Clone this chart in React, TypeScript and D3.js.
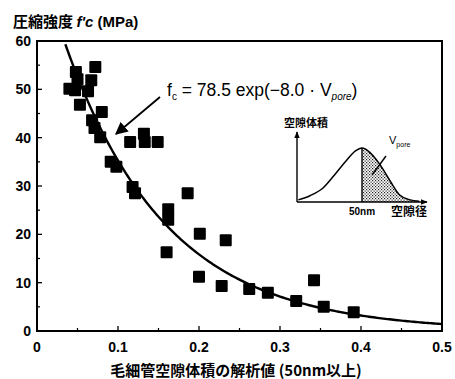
import React from "react";
import * as d3 from "d3";

// Measured points: capillary pore volume (>=50nm) vs compressive strength f'c (MPa)
const poreVolume = [
  0.040, 0.048, 0.050, 0.047, 0.053, 0.067, 0.072, 0.063, 0.068, 0.071, 0.080, 0.078,
  0.091, 0.098, 0.115, 0.132, 0.133, 0.149, 0.118, 0.121, 0.162, 0.162, 0.160, 0.186,
  0.201, 0.200, 0.233, 0.228, 0.262, 0.285, 0.320, 0.342, 0.354, 0.391,
];
const strength = [
  50.1, 53.6, 52.1, 49.8, 46.8, 51.9, 54.6, 49.6, 43.6, 42.0, 45.3, 40.1,
  35.0, 34.0, 39.1, 40.8, 39.1, 39.1, 29.8, 28.5, 25.2, 23.0, 16.3, 28.5,
  20.1, 11.2, 18.8, 9.3, 8.7, 7.9, 6.2, 10.5, 5.0, 3.9,
];

// Fitted curve  fc = 78.5 exp(-8.0 Vpore)
const fitA = 78.5;
const fitB = -8.0;
const fitX = d3.range(0, 0.5001, 0.0025);

const xTicks = [0, 0.1, 0.2, 0.3, 0.4, 0.5];
const xTickLabels = ["0", "0.1", "0.2", "0.3", "0.4", "0.5"];
const xMinorTicks = [0.05, 0.15, 0.25, 0.35, 0.45];
const yTicks = [0, 10, 20, 30, 40, 50, 60];
const yMinorTicks = [5, 15, 25, 35, 45, 55];

// Inset schematic: pore size distribution (arbitrary units)
const insetSize = [0.1, 1, 2, 2.9, 3.7, 4.5, 5, 5.6, 6.4, 7.2, 7.9, 8.7, 9.4];
const insetVolume = [0.3, 0.9, 2.0, 3.9, 5.7, 7.3, 7.7, 7.1, 5.3, 2.9, 1.0, 0.3, 0.1];
const insetCut = 5;

const yTitleJa = "圧縮強度 ";
const yTitleSym = "f'c";
const yTitleUnit = " (MPa)";
const xTitle = "毛細管空隙体積の解析値 (50nm以上)";

const FONT = "'Liberation Sans', Arial, Helvetica, sans-serif";
const JFONT = "'Noto Sans CJK JP', 'Liberation Sans', sans-serif";

export default function App() {
  const W = 455, H = 379;
  const x = d3.scaleLinear().domain([0, 0.5]).range([37, 442]);
  const y = d3.scaleLinear().domain([0, 60]).range([331, 41]);

  const fitLine = d3
    .line<number>()
    .x((v) => x(v))
    .y((v) => y(Math.min(60, fitA * Math.exp(fitB * v))))(
    fitX.filter((v) => fitA * Math.exp(fitB * v) <= 60.5)
  );

  const ix = d3.scaleLinear().domain([0, 10]).range([297, 427]);
  const iy = d3.scaleLinear().domain([0, 10]).range([202, 132]);
  const insetPts = insetSize.map((s, i) => [s, insetVolume[i]] as [number, number]);
  const insetLine = d3
    .line<[number, number]>()
    .x((d) => ix(d[0]))
    .y((d) => iy(d[1]))
    .curve(d3.curveMonotoneX);
  const interpV = (s: number) => {
    for (let i = 0; i < insetPts.length - 1; i++) {
      if (s >= insetPts[i][0] && s <= insetPts[i + 1][0]) {
        const t = (s - insetPts[i][0]) / (insetPts[i + 1][0] - insetPts[i][0]);
        return insetPts[i][1] + t * (insetPts[i + 1][1] - insetPts[i][1]);
      }
    }
    return 0;
  };
  const areaPts = [[insetCut, interpV(insetCut)] as [number, number], ...insetPts.filter((d) => d[0] > insetCut)];
  const insetArea = d3
    .area<[number, number]>()
    .x((d) => ix(d[0]))
    .y0(iy(0))
    .y1((d) => iy(d[1]))
    .curve(d3.curveMonotoneX);

  const sq = 12;

  return (
    <svg
      width={W}
      height={H}
      viewBox={`0 0 ${W} ${H}`}
      style={{ position: "absolute", left: 0, top: 0, background: "#fff" }}
    >
      <defs>
        <pattern id="dots" width="3" height="3" patternUnits="userSpaceOnUse">
          <rect width="3" height="3" fill="#fff" />
          <rect x="0" y="0" width="1.2" height="1.2" fill="#222" />
          <rect x="1.5" y="1.5" width="1.2" height="1.2" fill="#222" />
        </pattern>
        <marker id="arr" viewBox="0 0 10 10" refX="9" refY="5" markerWidth="7" markerHeight="7" orient="auto-start-reverse">
          <path d="M0,0 L10,5 L0,10 z" fill="#000" />
        </marker>
        <marker id="iarr" viewBox="0 0 10 10" refX="9" refY="5" markerWidth="5" markerHeight="5" orient="auto">
          <path d="M0,1 L10,5 L0,9 z" fill="#000" />
        </marker>
        <clipPath id="plotClip">
          <rect x={37} y={41} width={405} height={290} />
        </clipPath>
      </defs>

      {/* Y title */}
      <text x={13} y={27} fontFamily={JFONT} fontSize={15} fontWeight="bold" fill="#000">
        {yTitleJa}
        <tspan fontFamily={FONT} fontStyle="italic">{yTitleSym}</tspan>
        <tspan fontFamily={FONT}>{yTitleUnit}</tspan>
      </text>

      {/* frame */}
      <rect x={x(0)} y={y(60)} width={x(0.5) - x(0)} height={y(0) - y(60)} fill="none" stroke="#000" strokeWidth={2} />

      {/* ticks */}
      {yTicks.map((t) => (
        <g key={"y" + t}>
          <line x1={x(0)} x2={x(0) + 5} y1={y(t)} y2={y(t)} stroke="#000" strokeWidth={1.3} />
          <text x={31} y={y(t) + 5} textAnchor="end" fontFamily={FONT} fontSize={14} fontWeight="bold">
            {t}
          </text>
        </g>
      ))}
      {yMinorTicks.map((t) => (
        <line key={"ym" + t} x1={x(0)} x2={x(0) + 3} y1={y(t)} y2={y(t)} stroke="#000" strokeWidth={1.2} />
      ))}
      {xTicks.map((t, i) => (
        <g key={"x" + t}>
          <line x1={x(t)} x2={x(t)} y1={y(0)} y2={y(0) - 5} stroke="#000" strokeWidth={1.3} />
          <text x={x(t)} y={352} textAnchor="middle" fontFamily={FONT} fontSize={14} fontWeight="bold">
            {xTickLabels[i]}
          </text>
        </g>
      ))}
      {xMinorTicks.map((t) => (
        <line key={"xm" + t} x1={x(t)} x2={x(t)} y1={y(0)} y2={y(0) - 3} stroke="#000" strokeWidth={1.2} />
      ))}

      {/* X title */}
      <text x={236} y={376} textAnchor="middle" fontFamily={JFONT} fontSize={15} fontWeight="bold">
        {xTitle}
      </text>

      {/* fit curve */}
      <path d={fitLine || ""} fill="none" stroke="#000" strokeWidth={2.4} clipPath="url(#plotClip)" />

      {/* points */}
      {poreVolume.map((v, i) => (
        <rect key={"p" + i} x={x(v) - sq / 2} y={y(strength[i]) - sq / 2} width={sq} height={sq} fill="#000" rx={1} />
      ))}

      {/* equation */}
      <text x={167} y={96} fontFamily={FONT} fontSize={17.5} fill="#000">
        f
        <tspan fontSize={10} dy={4}>c</tspan>
        <tspan dy={-4}> = 78.5 </tspan>
        <tspan>exp(−8.0 · V</tspan>
        <tspan fontSize={10} dy={4} fontStyle="italic">pore</tspan>
        <tspan dy={-4}>)</tspan>
      </text>
      <line x1={160} y1={97} x2={116} y2={134} stroke="#000" strokeWidth={1.8} markerEnd="url(#arr)" />

      {/* inset */}
      <text x={284} y={127} fontFamily={JFONT} fontSize={11} fontWeight="bold">
        空隙体積
      </text>
      <path d={insetArea(areaPts) || ""} fill="url(#dots)" stroke="none" />
      <line x1={ix(insetCut)} x2={ix(insetCut)} y1={iy(0)} y2={iy(interpV(insetCut))} stroke="#000" strokeWidth={1.4} />
      <path d={insetLine(insetPts) || ""} fill="none" stroke="#000" strokeWidth={1.5} />
      <line x1={ix(0)} x2={ix(0)} y1={iy(0)} y2={iy(10)} stroke="#000" strokeWidth={1.4} markerEnd="url(#iarr)" />
      <line x1={ix(0)} x2={ix(10)} y1={iy(0)} y2={iy(0)} stroke="#000" strokeWidth={1.4} markerEnd="url(#iarr)" />
      <text x={ix(insetCut)} y={215} textAnchor="middle" fontFamily={FONT} fontSize={10} fontWeight="bold">
        50nm
      </text>
      <text x={391} y={216} fontFamily={JFONT} fontSize={12} fontWeight="bold">
        空隙径
      </text>
      <text x={389} y={144} fontFamily={FONT} fontSize={11}>
        V<tspan fontSize={7} dy={3}>pore</tspan>
      </text>
      <line x1={386} y1={156} x2={372} y2={175} stroke="#000" strokeWidth={1.4} />
    </svg>
  );
}
